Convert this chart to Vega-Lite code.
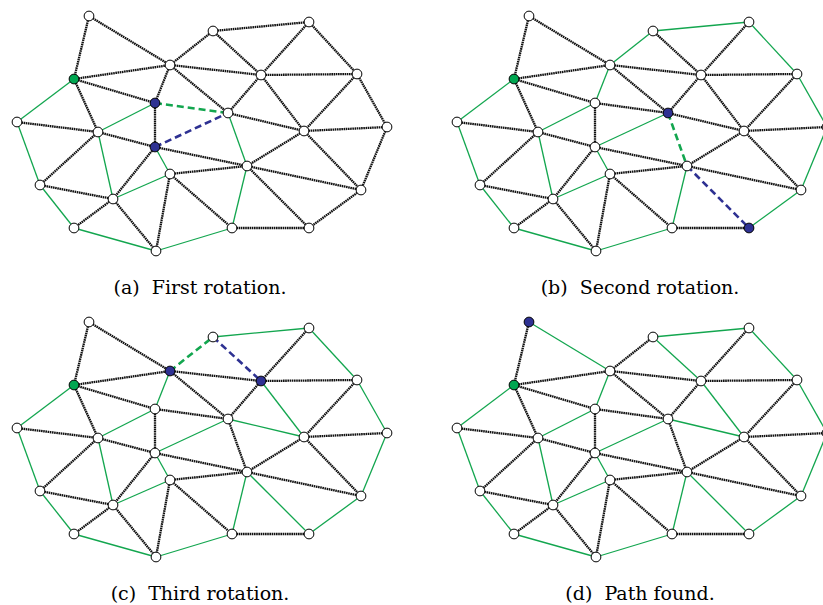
{
  "$schema": "https://vega.github.io/schema/vega-lite/v6.json",
  "padding": 0,
  "background": "white",
  "datasets": {
    "nodes": [
      {"id": 1, "x": 89, "y": 16},
      {"id": 2, "x": 213, "y": 31},
      {"id": 3, "x": 309, "y": 22},
      {"id": 4, "x": 74, "y": 79},
      {"id": 5, "x": 170, "y": 65},
      {"id": 6, "x": 261, "y": 75},
      {"id": 7, "x": 357, "y": 74},
      {"id": 8, "x": 155, "y": 103},
      {"id": 9, "x": 228, "y": 113},
      {"id": 10, "x": 17, "y": 122},
      {"id": 11, "x": 98, "y": 132},
      {"id": 12, "x": 155, "y": 147},
      {"id": 13, "x": 304, "y": 131},
      {"id": 14, "x": 387, "y": 127},
      {"id": 15, "x": 40, "y": 185},
      {"id": 16, "x": 170, "y": 174},
      {"id": 17, "x": 247, "y": 166},
      {"id": 18, "x": 113, "y": 199},
      {"id": 19, "x": 361, "y": 190},
      {"id": 20, "x": 74, "y": 228},
      {"id": 21, "x": 156, "y": 251},
      {"id": 22, "x": 232, "y": 228},
      {"id": 23, "x": 309, "y": 228}
    ],
    "main": [
      {"k": "e", "a": 1, "b": 4, "A": "k", "B": "k", "C": "k", "D": "k"},
      {"k": "e", "a": 1, "b": 5, "A": "k", "B": "k", "C": "k", "D": "g"},
      {"k": "e", "a": 4, "b": 5, "A": "k", "B": "k", "C": "k", "D": "k"},
      {"k": "e", "a": 4, "b": 8, "A": "k", "B": "k", "C": "k", "D": "k"},
      {"k": "e", "a": 4, "b": 10, "A": "g", "B": "g", "C": "g", "D": "g"},
      {"k": "e", "a": 4, "b": 11, "A": "k", "B": "k", "C": "k", "D": "k"},
      {"k": "e", "a": 5, "b": 8, "A": "k", "B": "g", "C": "g", "D": "g"},
      {"k": "e", "a": 5, "b": 2, "A": "k", "B": "g", "C": "gd", "D": "k"},
      {"k": "e", "a": 5, "b": 6, "A": "k", "B": "k", "C": "k", "D": "k"},
      {"k": "e", "a": 5, "b": 9, "A": "k", "B": "k", "C": "k", "D": "k"},
      {"k": "e", "a": 2, "b": 3, "A": "k", "B": "g", "C": "g", "D": "g"},
      {"k": "e", "a": 2, "b": 6, "A": "k", "B": "k", "C": "bd", "D": "g"},
      {"k": "e", "a": 3, "b": 6, "A": "k", "B": "k", "C": "k", "D": "k"},
      {"k": "e", "a": 3, "b": 7, "A": "k", "B": "g", "C": "g", "D": "g"},
      {"k": "e", "a": 6, "b": 7, "A": "k", "B": "k", "C": "k", "D": "k"},
      {"k": "e", "a": 6, "b": 9, "A": "k", "B": "k", "C": "k", "D": "k"},
      {"k": "e", "a": 6, "b": 13, "A": "k", "B": "k", "C": "g", "D": "g"},
      {"k": "e", "a": 7, "b": 13, "A": "k", "B": "k", "C": "k", "D": "k"},
      {"k": "e", "a": 7, "b": 14, "A": "k", "B": "g", "C": "g", "D": "g"},
      {"k": "e", "a": 8, "b": 9, "A": "gd", "B": "k", "C": "k", "D": "k"},
      {"k": "e", "a": 8, "b": 11, "A": "g", "B": "g", "C": "g", "D": "g"},
      {"k": "e", "a": 8, "b": 12, "A": "k", "B": "k", "C": "k", "D": "k"},
      {"k": "e", "a": 12, "b": 9, "A": "bd", "B": "g", "C": "g", "D": "g"},
      {"k": "e", "a": 9, "b": 13, "A": "k", "B": "k", "C": "g", "D": "g"},
      {"k": "e", "a": 9, "b": 17, "A": "g", "B": "gd", "C": "k", "D": "k"},
      {"k": "e", "a": 10, "b": 11, "A": "k", "B": "k", "C": "k", "D": "k"},
      {"k": "e", "a": 10, "b": 15, "A": "g", "B": "g", "C": "g", "D": "g"},
      {"k": "e", "a": 11, "b": 12, "A": "k", "B": "k", "C": "k", "D": "k"},
      {"k": "e", "a": 11, "b": 15, "A": "k", "B": "k", "C": "k", "D": "k"},
      {"k": "e", "a": 11, "b": 18, "A": "g", "B": "g", "C": "g", "D": "g"},
      {"k": "e", "a": 12, "b": 16, "A": "g", "B": "g", "C": "g", "D": "g"},
      {"k": "e", "a": 12, "b": 18, "A": "k", "B": "k", "C": "k", "D": "k"},
      {"k": "e", "a": 12, "b": 17, "A": "k", "B": "k", "C": "k", "D": "k"},
      {"k": "e", "a": 15, "b": 18, "A": "k", "B": "k", "C": "k", "D": "k"},
      {"k": "e", "a": 15, "b": 20, "A": "g", "B": "g", "C": "g", "D": "g"},
      {"k": "e", "a": 16, "b": 18, "A": "g", "B": "g", "C": "g", "D": "g"},
      {"k": "e", "a": 16, "b": 17, "A": "k", "B": "k", "C": "k", "D": "k"},
      {"k": "e", "a": 16, "b": 21, "A": "k", "B": "k", "C": "k", "D": "k"},
      {"k": "e", "a": 16, "b": 22, "A": "k", "B": "k", "C": "k", "D": "k"},
      {"k": "e", "a": 18, "b": 20, "A": "k", "B": "k", "C": "k", "D": "k"},
      {"k": "e", "a": 18, "b": 21, "A": "k", "B": "k", "C": "k", "D": "k"},
      {"k": "e", "a": 20, "b": 21, "A": "g", "B": "g", "C": "g", "D": "g"},
      {"k": "e", "a": 21, "b": 22, "A": "g", "B": "g", "C": "g", "D": "g"},
      {"k": "e", "a": 17, "b": 22, "A": "g", "B": "g", "C": "g", "D": "g"},
      {"k": "e", "a": 13, "b": 17, "A": "k", "B": "k", "C": "k", "D": "k"},
      {"k": "e", "a": 17, "b": 19, "A": "k", "B": "k", "C": "k", "D": "k"},
      {"k": "e", "a": 17, "b": 23, "A": "k", "B": "bd", "C": "g", "D": "g"},
      {"k": "e", "a": 13, "b": 14, "A": "k", "B": "k", "C": "k", "D": "k"},
      {"k": "e", "a": 13, "b": 19, "A": "k", "B": "k", "C": "k", "D": "k"},
      {"k": "e", "a": 14, "b": 19, "A": "k", "B": "g", "C": "g", "D": "g"},
      {"k": "e", "a": 19, "b": 23, "A": "k", "B": "g", "C": "g", "D": "g"},
      {"k": "e", "a": 22, "b": 23, "A": "k", "B": "k", "C": "k", "D": "k"},
      {"k": "n", "a": 1, "A": "w", "B": "w", "C": "w", "D": "b"},
      {"k": "n", "a": 2, "A": "w", "B": "w", "C": "w", "D": "w"},
      {"k": "n", "a": 3, "A": "w", "B": "w", "C": "w", "D": "w"},
      {"k": "n", "a": 4, "A": "g", "B": "g", "C": "g", "D": "g"},
      {"k": "n", "a": 5, "A": "w", "B": "w", "C": "b", "D": "w"},
      {"k": "n", "a": 6, "A": "w", "B": "w", "C": "b", "D": "w"},
      {"k": "n", "a": 7, "A": "w", "B": "w", "C": "w", "D": "w"},
      {"k": "n", "a": 8, "A": "b", "B": "w", "C": "w", "D": "w"},
      {"k": "n", "a": 9, "A": "w", "B": "b", "C": "w", "D": "w"},
      {"k": "n", "a": 10, "A": "w", "B": "w", "C": "w", "D": "w"},
      {"k": "n", "a": 11, "A": "w", "B": "w", "C": "w", "D": "w"},
      {"k": "n", "a": 12, "A": "b", "B": "w", "C": "w", "D": "w"},
      {"k": "n", "a": 13, "A": "w", "B": "w", "C": "w", "D": "w"},
      {"k": "n", "a": 14, "A": "w", "B": "w", "C": "w", "D": "w"},
      {"k": "n", "a": 15, "A": "w", "B": "w", "C": "w", "D": "w"},
      {"k": "n", "a": 16, "A": "w", "B": "w", "C": "w", "D": "w"},
      {"k": "n", "a": 17, "A": "w", "B": "w", "C": "w", "D": "w"},
      {"k": "n", "a": 18, "A": "w", "B": "w", "C": "w", "D": "w"},
      {"k": "n", "a": 19, "A": "w", "B": "w", "C": "w", "D": "w"},
      {"k": "n", "a": 20, "A": "w", "B": "w", "C": "w", "D": "w"},
      {"k": "n", "a": 21, "A": "w", "B": "w", "C": "w", "D": "w"},
      {"k": "n", "a": 22, "A": "w", "B": "w", "C": "w", "D": "w"},
      {"k": "n", "a": 23, "A": "w", "B": "b", "C": "w", "D": "w"}
    ]
  },
  "data": {"name": "main"},
  "transform": [
    {"fold": ["A", "B", "C", "D"], "as": ["panel", "s"]},
    {"lookup": "a", "from": {"data": {"name": "nodes"}, "key": "id", "fields": ["x", "y"]}},
    {"lookup": "b", "from": {"data": {"name": "nodes"}, "key": "id", "fields": ["x", "y"]}, "as": ["x2", "y2"]}
  ],
  "facet": {
    "field": "panel",
    "type": "nominal",
    "title": null,
    "header": {
      "labelOrient": "bottom",
      "labelFont": "DejaVu Serif",
      "labelFontSize": 19,
      "labelColor": "black",
      "labelPadding": 14,
      "labelExpr": "datum.value == 'A' ? '(a)\u00a0\u00a0First rotation.' : datum.value == 'B' ? '(b)\u00a0\u00a0Second rotation.' : datum.value == 'C' ? '(c)\u00a0\u00a0Third rotation.' : '(d)\u00a0\u00a0Path found.'"
    }
  },
  "columns": 2,
  "spacing": {"row": 8, "column": 40},
  "spec": {
    "width": 400,
    "height": 265,
    "encoding": {
      "x": {"field": "x", "type": "quantitative", "scale": {"domain": [0, 400], "nice": false, "zero": false}, "axis": null},
      "y": {"field": "y", "type": "quantitative", "scale": {"domain": [0, 265], "reverse": true, "nice": false, "zero": false}, "axis": null}
    },
    "layer": [
      {
        "transform": [{"filter": "datum.k == 'e' && datum.s == 'k'"}],
        "mark": {"type": "rule", "stroke": "#111111", "strokeWidth": 2.3, "strokeDash": [1.6, 0.6]},
        "encoding": {"x2": {"field": "x2"}, "y2": {"field": "y2"}}
      },
      {
        "transform": [{"filter": "datum.k == 'e' && datum.s == 'g'"}],
        "mark": {"type": "rule", "stroke": "#13a64f", "strokeWidth": 1.3},
        "encoding": {"x2": {"field": "x2"}, "y2": {"field": "y2"}}
      },
      {
        "transform": [{"filter": "datum.k == 'e' && datum.s == 'gd'"}],
        "mark": {"type": "rule", "stroke": "#13a64f", "strokeWidth": 2.6, "strokeDash": [7, 4]},
        "encoding": {"x2": {"field": "x2"}, "y2": {"field": "y2"}}
      },
      {
        "transform": [{"filter": "datum.k == 'e' && datum.s == 'bd'"}],
        "mark": {"type": "rule", "stroke": "#2e3192", "strokeWidth": 2.6, "strokeDash": [7, 4]},
        "encoding": {"x2": {"field": "x2"}, "y2": {"field": "y2"}}
      },
      {
        "transform": [{"filter": "datum.k == 'n'"}],
        "mark": {"type": "point", "shape": "circle", "filled": true, "size": 95, "stroke": "black", "strokeWidth": 1, "opacity": 1},
        "encoding": {
          "fill": {"field": "s", "type": "nominal", "scale": {"domain": ["w", "g", "b"], "range": ["white", "#00a651", "#2e3192"]}, "legend": null}
        }
      }
    ]
  },
  "config": {"view": {"stroke": null}}
}
